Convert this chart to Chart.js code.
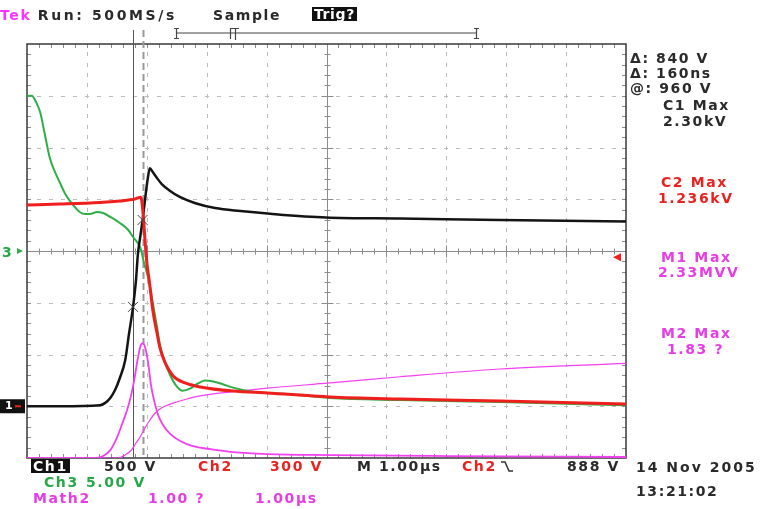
<!DOCTYPE html>
<html>
<head>
<meta charset="utf-8">
<script src="https://cdn.jsdelivr.net/npm/chart.js@4.4.1/dist/chart.umd.min.js"></script>
<style>
  html, body { margin: 0; padding: 0; background: #fff; }
  #wrap { position: relative; width: 762px; height: 509px; overflow: hidden; }
  canvas { position: absolute; left: 0; top: 0; }
  .t {
    position: absolute;
    font: bold 14px "DejaVu Sans", sans-serif;
    line-height: 14px;
    letter-spacing: 1.6px;
    white-space: pre;
    color: #2a2a2a;
  }
  .red { color: #e8231f; }
  .grn { color: #25a845; }
  .mag { color: #e63de6; }
  .box { background: #111; color: #fff; padding: 0 2px; }
</style>
</head>
<body>
<div id="wrap">
  <canvas id="scope" width="762" height="509"></canvas>

  <div class="t" style="left:0px;top:8px;"><span style="color:#ff33ff">Tek</span> <span style="letter-spacing:2.6px">Run: 500MS/s</span></div>
  <div class="t" style="left:213px;top:8px;">Sample</div>
  <div class="t box" style="left:312px;top:7px;letter-spacing:0.6px;">Trig?</div>

  <div class="t" style="left:630px;top:51px;">Δ: 840 V</div>
  <div class="t" style="left:630px;top:66px;">Δ: 160ns</div>
  <div class="t" style="left:630px;top:81px;">@: 960 V</div>
  <div class="t" style="left:663px;top:98px;">C1 Max</div>
  <div class="t" style="left:663px;top:114px;">2.30kV</div>
  <div class="t red" style="left:661px;top:175px;">C2 Max</div>
  <div class="t red" style="left:658px;top:191px;">1.236kV</div>
  <div class="t mag" style="left:661px;top:250px;">M1 Max</div>
  <div class="t mag" style="left:658px;top:265px;">2.33MVV</div>
  <div class="t mag" style="left:661px;top:326px;">M2 Max</div>
  <div class="t mag" style="left:667px;top:342px;">1.83 ?</div>

  <div class="t grn" style="left:2px;top:245px;">3</div>

  <div class="t box" style="left:31px;top:459px;">Ch1</div>
  <div class="t" style="left:104px;top:459px;">500 V</div>
  <div class="t red" style="left:198px;top:459px;">Ch2</div>
  <div class="t red" style="left:270px;top:459px;">300 V</div>
  <div class="t" style="left:357px;top:459px;">M 1.00µs</div>
  <div class="t red" style="left:462px;top:459px;">Ch2</div>
  <div class="t" style="left:567px;top:459px;">888 V</div>
  <div class="t grn" style="left:44px;top:475px;">Ch3</div>
  <div class="t grn" style="left:86px;top:475px;">5.00 V</div>
  <div class="t mag" style="left:33px;top:491px;">Math2</div>
  <div class="t mag" style="left:148px;top:491px;">1.00 ?</div>
  <div class="t mag" style="left:255px;top:491px;">1.00µs</div>
  <div class="t" style="left:636px;top:460px;letter-spacing:2px;">14 Nov 2005</div>
  <div class="t" style="left:636px;top:484px;">13:21:02</div>
</div>

<script>
// Time in µs from the left edge of the screen, 1 µs per division
const ch1Time = [0, 0.55, 1.22, 1.30, 1.39, 1.47, 1.55, 1.64, 1.70, 1.77, 1.82, 1.85, 1.89, 1.93, 1.99,
  2.02, 2.05, 2.10, 2.17, 2.25, 2.39, 2.55, 2.80, 3.14, 3.56, 4.06, 4.99, 6.23, 7.90, 10.0];
const ch1Volts = [0, 0, 10, 30, 80, 157, 273, 447, 688, 960, 1220, 1461, 1635, 1800, 2090,
  2215, 2300, 2263, 2205, 2147, 2080, 2022, 1964, 1915, 1886, 1860, 1824, 1814, 1800, 1785];

const ch2Time = [0, 0.55, 1.22, 1.55, 1.80, 1.90, 1.94, 1.97, 2.00, 2.05, 2.10, 2.17, 2.22, 2.30,
  2.44, 2.64, 2.89, 3.44, 4.01, 5.06, 6.23, 7.90, 10.0];
const ch2Volts = [1191, 1196, 1205, 1214, 1225, 1236, 1133, 988, 860, 727, 582, 449, 362, 281,
  200, 159, 136, 112, 101, 78, 66, 54, 37];

const ch3Time = [0, 0.08, 0.15, 0.22, 0.30, 0.38, 0.47, 0.55, 0.63, 0.72, 0.80, 0.88, 0.97, 1.05,
  1.17, 1.27, 1.39, 1.55, 1.69, 1.77, 1.85, 1.90, 1.95, 2.02, 2.10, 2.17, 2.22, 2.30, 2.39, 2.49,
  2.60, 2.72, 2.84, 2.97, 3.11, 3.26, 3.44, 3.77, 4.27, 5.06, 6.23, 7.90, 10.0];
const ch3Volts = [15.0, 15.0, 14.4, 13.4, 11.2, 9.0, 7.6, 6.6, 5.6, 4.8, 4.25, 3.77, 3.57, 3.57,
  3.77, 3.67, 3.29, 2.71, 2.03, 1.35, 0.77, 0.19, -1.06, -2.51, -5.02, -7.34, -9.08, -10.7, -12.0, -13.0,
  -13.5, -13.3, -12.85, -12.5, -12.6, -12.85, -13.2, -13.6, -13.8, -14.2, -14.4, -14.6, -14.9];

// Math1: pulse (MVV), Math2: its running integral (1.00 ?/div)
const math1Time = [0, 1.14, 1.27, 1.39, 1.50, 1.60, 1.67, 1.74, 1.79, 1.84, 1.89, 1.93, 1.97, 2.02,
  2.07, 2.12, 2.19, 2.27, 2.39, 2.55, 2.77, 3.06, 3.44, 4.01, 5.06, 7.06, 10.0];
const math1Vals = [0, 0, 0.04, 0.16, 0.41, 0.73, 0.97, 1.28, 1.58, 1.95, 2.25, 2.33, 2.25, 1.95,
  1.48, 1.18, 0.87, 0.67, 0.49, 0.35, 0.24, 0.18, 0.12, 0.08, 0.06, 0.04, 0.02];

const math2Time = [0, 1.52, 1.64, 1.74, 1.82, 1.89, 1.97, 2.05, 2.14, 2.25, 2.44, 2.67, 2.89,
  3.44, 4.01, 5.06, 6.23, 7.90, 10.0];
const math2Vals = [0, 0, 0.06, 0.15, 0.29, 0.41, 0.58, 0.73, 0.87, 0.97, 1.06, 1.14, 1.20,
  1.28, 1.35, 1.45, 1.57, 1.72, 1.83];

// Cursor pair (Δ 160 ns) and the Ch1 level where each crosses the trace
const cursorTimes = [1.77, 1.93];
const cursorCh1Volts = [960, 1800];

// volts per division and ground position (in divisions from centre)
const ch1 = { perDiv: 500, ground: -3.0 };
const ch2 = { perDiv: 300, ground: -3.08 };
const ch3 = { perDiv: 5, ground: 0 };
const m1 = { perDiv: 1.05, ground: -4.0 };
const m2 = { perDiv: 1.0, ground: -4.0 };

const toDiv = (ch, v) => v / ch.perDiv + ch.ground;
const trace = (times, vals, ch) => times.map((t, i) => ({ x: t, y: toDiv(ch, vals[i]) }));

const RED = "#ee1f1c";
const GREEN = "#2fae48";
const MAG = "#f23ff0";

const graticule = {
  id: "graticule",
  beforeDatasetsDraw(chart) {
    const { ctx, chartArea: a, scales: { x, y } } = chart;
    ctx.save();
    // dotted division lines
    ctx.fillStyle = "#bcbcbc";
    for (let i = 1; i < 10; i++) {
      if (i === 5) continue;
      const px = Math.round(x.getPixelForValue(i));
      for (let j = 1; j < 40; j++) {
        const py = y.getPixelForValue(-4 + j * 0.2);
        ctx.fillRect(px, Math.round(py) - 2, 1, 4);
      }
    }
    for (let i = -3; i <= 3; i++) {
      if (i === 0) continue;
      const py = Math.round(y.getPixelForValue(i));
      for (let j = 1; j < 50; j++) {
        const px = x.getPixelForValue(j * 0.2);
        ctx.fillRect(Math.round(px) - 2, py, 4, 1);
      }
    }
    // centre cross with minor ticks
    const cx = Math.round(x.getPixelForValue(5)) + 0.5;
    const cy = Math.round(y.getPixelForValue(0)) + 0.5;
    ctx.strokeStyle = "#8c8c8c";
    ctx.lineWidth = 1;
    ctx.beginPath();
    ctx.moveTo(cx, a.top); ctx.lineTo(cx, a.bottom);
    ctx.moveTo(a.left, cy); ctx.lineTo(a.right, cy);
    for (let j = 1; j < 50; j++) {
      const px = Math.round(x.getPixelForValue(j * 0.2)) + 0.5;
      const len = j % 5 === 0 ? 6 : 3;
      ctx.moveTo(px, cy - len); ctx.lineTo(px, cy + len);
      ctx.moveTo(px, a.top); ctx.lineTo(px, a.top + 4);
      ctx.moveTo(px, a.bottom); ctx.lineTo(px, a.bottom - 4);
    }
    for (let j = 1; j < 40; j++) {
      const py = Math.round(y.getPixelForValue(-4 + j * 0.2)) + 0.5;
      const len = j % 5 === 0 ? 6 : 3;
      ctx.moveTo(cx - len, py); ctx.lineTo(cx + len, py);
      ctx.moveTo(a.left, py); ctx.lineTo(a.left + 4, py);
      ctx.moveTo(a.right, py); ctx.lineTo(a.right - 4, py);
    }
    ctx.stroke();
    // frame
    ctx.strokeStyle = "#3a3a3a";
    ctx.lineWidth = 1.5;
    ctx.strokeRect(a.left, a.top, a.right - a.left, a.bottom - a.top);

    // cursors
    const c0 = Math.round(x.getPixelForValue(cursorTimes[0])) + 0.5;
    const c1 = Math.round(x.getPixelForValue(cursorTimes[1])) + 0.5;
    ctx.strokeStyle = "#555";
    ctx.lineWidth = 1;
    ctx.beginPath();
    ctx.moveTo(c0, 30); ctx.lineTo(c0, a.bottom);
    ctx.stroke();
    ctx.strokeStyle = "#9a9a9a";
    ctx.lineWidth = 2;
    ctx.setLineDash([7, 4]);
    ctx.beginPath();
    ctx.moveTo(c1, 30); ctx.lineTo(c1, a.bottom);
    ctx.stroke();
    ctx.restore();
  },
  afterDatasetsDraw(chart) {
    const { ctx, chartArea: a, scales: { x, y } } = chart;
    ctx.save();
    // cursor crossings on Ch1
    ctx.strokeStyle = "#444";
    ctx.lineWidth = 1;
    cursorTimes.forEach((t, i) => {
      const px = x.getPixelForValue(t);
      const py = y.getPixelForValue(toDiv(ch1, cursorCh1Volts[i]));
      ctx.beginPath();
      ctx.moveTo(px - 5, py - 5); ctx.lineTo(px + 5, py + 5);
      ctx.moveTo(px + 5, py - 5); ctx.lineTo(px - 5, py + 5);
      ctx.stroke();
    });

    // record position bar along the top
    ctx.strokeStyle = "#444";
    ctx.lineWidth = 1.2;
    ctx.beginPath();
    ctx.moveTo(176, 33); ctx.lineTo(477, 33);
    ctx.moveTo(176.5, 28); ctx.lineTo(176.5, 39);
    ctx.moveTo(174, 28.5); ctx.lineTo(179, 28.5);
    ctx.moveTo(174, 38.5); ctx.lineTo(179, 38.5);
    ctx.moveTo(476.5, 28); ctx.lineTo(476.5, 39);
    ctx.moveTo(474, 28.5); ctx.lineTo(479, 28.5);
    ctx.moveTo(474, 38.5); ctx.lineTo(479, 38.5);
    ctx.moveTo(230.5, 28); ctx.lineTo(230.5, 39);
    ctx.moveTo(230, 28.5); ctx.lineTo(239, 28.5);
    ctx.moveTo(235.5, 28); ctx.lineTo(235.5, 40);
    ctx.stroke();

    // channel ground markers on the left edge
    const g3 = y.getPixelForValue(toDiv(ch3, 0));
    ctx.fillStyle = GREEN;
    ctx.beginPath();
    ctx.moveTo(23, g3); ctx.lineTo(17, g3 - 3); ctx.lineTo(17, g3 + 3);
    ctx.closePath();
    ctx.fill();
    const g1 = y.getPixelForValue(toDiv(ch1, 0));
    ctx.fillStyle = "#111";
    ctx.fillRect(0, g1 - 7, 25, 14);
    ctx.fillStyle = "#fff";
    ctx.font = "bold 11px 'DejaVu Sans'";
    ctx.textBaseline = "middle";
    ctx.fillText("1", 5, g1);
    ctx.fillStyle = RED;
    ctx.fillRect(15, g1 - 1, 6, 2);

    // Ch2 trigger level marker on the right edge (888 V)
    const tl = y.getPixelForValue(toDiv(ch2, 888));
    ctx.fillStyle = RED;
    ctx.beginPath();
    ctx.moveTo(613, tl); ctx.lineTo(621, tl - 4); ctx.lineTo(621, tl + 4);
    ctx.closePath();
    ctx.fill();

    // falling slope symbol after "Ch2" in the status line
    ctx.strokeStyle = "#333";
    ctx.lineWidth = 1.5;
    ctx.beginPath();
    ctx.moveTo(501, 462); ctx.lineTo(505, 462); ctx.lineTo(509, 471); ctx.lineTo(513, 471);
    ctx.stroke();
    ctx.restore();
  }
};

new Chart(document.getElementById("scope"), {
  type: "line",
  data: {
    datasets: [
      { label: "Ch2", data: trace(ch2Time, ch2Volts, ch2), borderColor: RED, borderWidth: 3 },
      { label: "Ch1", data: trace(ch1Time, ch1Volts, ch1), borderColor: "#141414", borderWidth: 2.5 },
      { label: "Ch3", data: trace(ch3Time, ch3Volts, ch3), borderColor: GREEN, borderWidth: 2 },
      { label: "Math1", data: trace(math1Time, math1Vals, m1), borderColor: MAG, borderWidth: 1.8 },
      { label: "Math2", data: trace(math2Time, math2Vals, m2), borderColor: MAG, borderWidth: 1.2 },
    ],
  },
  options: {
    responsive: false,
    animation: false,
    layout: { padding: { left: 27, top: 44, right: 136, bottom: 51 } },
    elements: {
      point: { radius: 0 },
      line: { cubicInterpolationMode: "monotone", fill: false },
    },
    plugins: { legend: { display: false }, tooltip: { enabled: false } },
    scales: {
      x: { type: "linear", min: 0, max: 10, display: false },
      y: { min: -4, max: 4, display: false },
    },
  },
  plugins: [graticule],
});
</script>
</body>
</html>
